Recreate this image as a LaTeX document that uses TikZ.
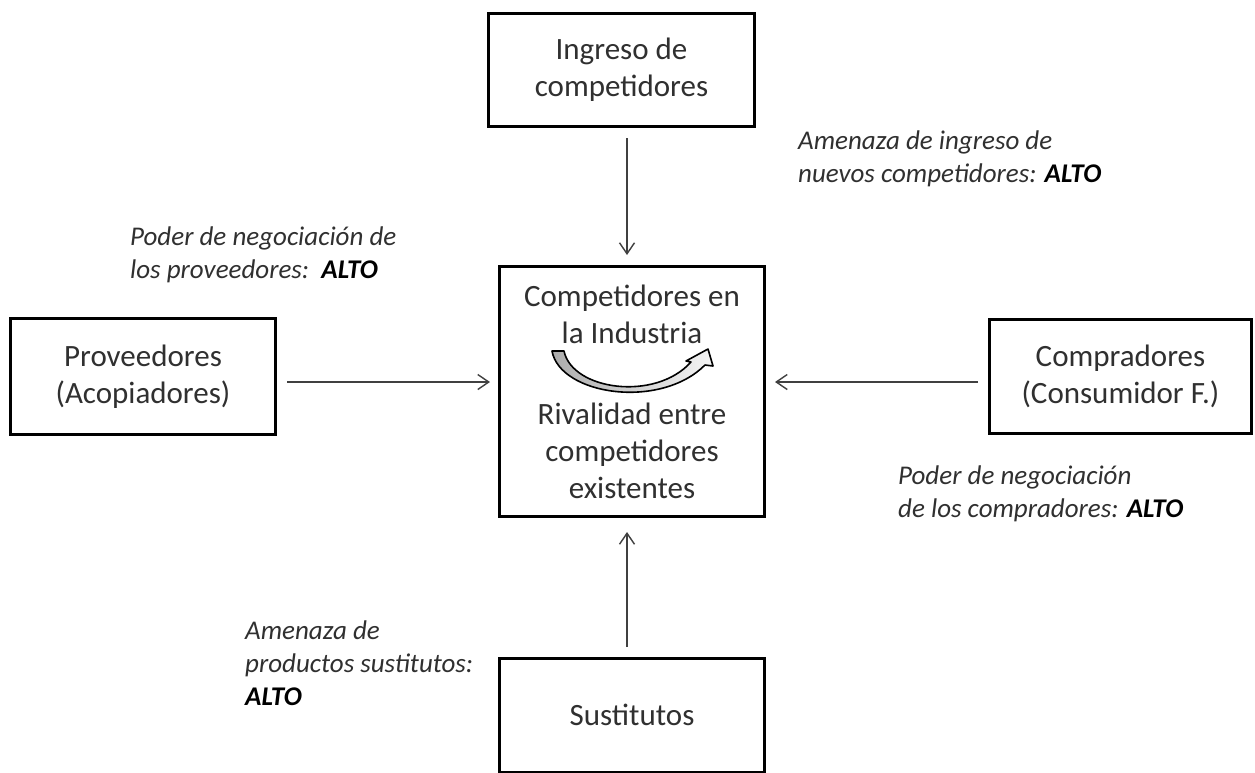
\documentclass[tikz,border=0pt]{standalone}
\usepackage{fontspec}
\setmainfont{Carlito}
\usetikzlibrary{arrows.meta}
\definecolor{txt}{HTML}{303030}
\definecolor{ln}{HTML}{404040}
\tikzset{
  box/.style={draw=black, line width=3pt, fill=white, align=center, inner sep=0pt,
    font=\fontsize{31}{37}\selectfont, text=txt},
  maintext/.style={align=center, inner sep=0pt, font=\fontsize{31}{37}\selectfont, text=txt},
  lbl/.style={align=left, inner sep=0pt, font=\fontsize{27}{33}\selectfont\itshape, text=txt},
  arr/.style={draw=ln, line width=1.4pt, -{Straight Barb[length=11pt,width=15pt]}},
}
\newcommand{\alto}{\textcolor{black}{\bfseries\itshape ALTO}}
\begin{document}
\begin{tikzpicture}[x=1pt,y=-1pt]
\useasboundingbox (0,0) rectangle (1255,772);
\fill[white] (0,0) rectangle (1255,772);

\node[box, minimum width=266pt, minimum height=113pt] (ingreso) at (621.5,70) {Ingreso de\\competidores};
\node[box, minimum width=265pt, minimum height=250pt] (centro) at (632,391.5) {};
\node[box, minimum width=265pt, minimum height=116pt] (prov) at (143,376.5) {Proveedores\\(Acopiadores)};
\node[box, minimum width=262pt, minimum height=114pt] (comp) at (1120.5,376.5) {Compradores\\(Consumidor F.)};
\node[box, minimum width=265pt, minimum height=113.5pt] (sust) at (632,715.25) {Sustitutos};

\node[maintext, anchor=base] (ct1) at (632,343) {Competidores en\\la Industria};
\node[maintext, anchor=base] (ct2) at (632,498) {Rivalidad entre\\competidores\\existentes};

\coordinate (vx) at (627,0);
\coordinate (hy) at (0,382);

\draw[arr, shorten <=10pt, shorten >=10pt] (ingreso.south -| vx) -- (centro.north -| vx);
\draw[arr, shorten <=10pt, shorten >=14pt] (sust.north -| vx) -- (centro.south -| vx);
\draw[arr, shorten <=10pt, shorten >=8pt] (prov.east |- hy) -- (centro.west |- hy);
\draw[arr, shorten <=10pt, shorten >=9pt] (comp.west |- hy) -- (centro.east |- hy);

% curved rivalry arrow
\draw[black, line width=1.6pt, line join=round, left color=gray!65, right color=gray!8]
  (552,351) .. controls (560,395) and (660,410) .. (705,365)
  -- (713,366) -- (708,349) -- (686,361) -- (691,362)
  .. controls (655,402) and (572,390) .. (564,351) -- cycle;

\node[lbl, anchor=base west] (l1) at (798,182) {Amenaza de ingreso de\\nuevos competidores: \alto};
\node[lbl, anchor=base west] (l2) at (130,278) {Poder de negociación de\\los proveedores:\ \ \alto};
\node[lbl, anchor=base west] (l3) at (898,517) {Poder de negociación\\de los compradores: \alto};
\node[lbl, anchor=base west] (l4) at (245,705) {Amenaza de\\productos sustitutos:\\\alto};
\end{tikzpicture}
\end{document}
